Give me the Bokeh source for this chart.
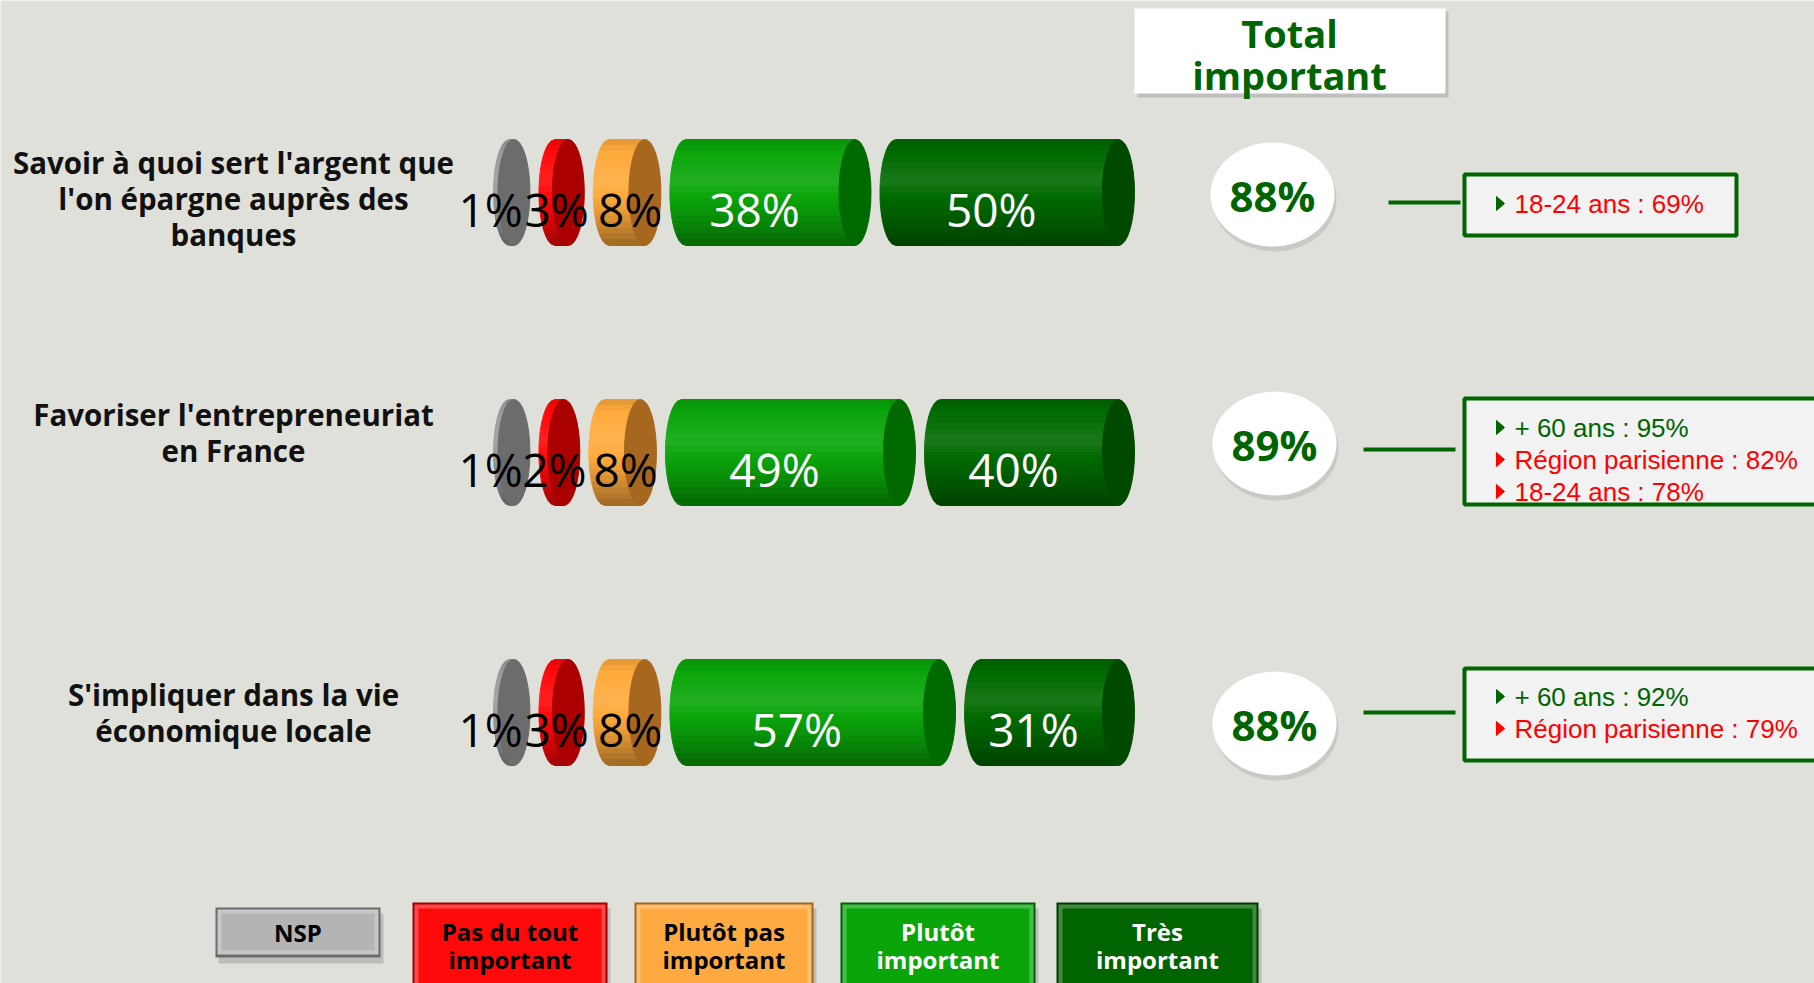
import numpy as np
from bokeh.plotting import figure
from bokeh.models import Range1d
from bokeh.core.properties import value
from bokeh.embed import file_html
from bokeh.resources import INLINE

# ---------------- data ----------------
questions = [
    ["Savoir à quoi sert l'argent que", "l'on épargne auprès des", "banques"],
    ["Favoriser l'entrepreneuriat", "en France"],
    ["S'impliquer dans la vie", "économique locale"],
]
categories = ["NSP", "Pas du tout important", "Plutôt pas important", "Plutôt important", "Très important"]
legend_lines = [["NSP"], ["Pas du tout", "important"], ["Plutôt pas", "important"], ["Plutôt", "important"], ["Très", "important"]]
nsp = [1, 1, 1]
pas_du_tout = [3, 2, 3]
plutot_pas = [8, 8, 8]
plutot = [38, 49, 57]
tres = [50, 40, 31]
total_important = [88, 89, 88]
callout_texts = [
    ["18-24 ans : 69%"],
    ["+ 60 ans : 95%", "Région parisienne : 82%", "18-24 ans : 78%"],
    ["+ 60 ans : 92%", "Région parisienne : 79%"],
]
callout_positive = [
    [False],
    [True, False, False],
    [True, False],
]
header_lines = ["Total", "important"]

# ---------------- style / layout ----------------
W, H = 1814, 983
BG = "#dfe0da"
GREEN = "#006400"
RED = "#ff0000"
body_colors = ["#9a9a9a", "#ff0808", "#ffaa3c", "#0aa50a", "#006a00"]
face_colors = ["#6c6c6c", "#ab0000", "#a8671f", "#006a00", "#004a00"]
label_colors = ["black", "black", "black", "white", "white"]
label_dx = [-21, -5, 3, -16, -16]
legend_fill = ["#b4b4b4", "#ff0a0a", "#ffaa40", "#0aa50a", "#006400"]
legend_edge = ["#6a6a6a", "#a00000", "#a0661c", "#045f04", "#003800"]
legend_text = ["black", "black", "black", "white", "white"]

row_y = [192, 452, 712]
q_center = [198, 432, 712]
circle_y = [194, 443, 723]
bar_x0 = 493
px_per_pct = 4.45
cap_a = 16
gap = 9
half_h = 53
NB = 18


def shade(hexc, f):
    c = [int(hexc[i:i + 2], 16) for i in (1, 3, 5)]
    if f >= 1:
        c = [v + (255 - v) * (f - 1) for v in c]
    else:
        c = [v * f for v in c]
    return "#%02x%02x%02x" % tuple(int(max(0, min(255, round(v)))) for v in c)


def profile(t):
    return float(np.interp(t, [0, 0.12, 0.4, 0.72, 1.0], [0.88, 1.0, 1.1, 0.88, 0.62]))


p = figure(width=W, height=H, x_range=Range1d(0, W), y_range=Range1d(H, 0),
           output_backend="svg", toolbar_location=None, min_border=0,
           x_axis_type=None, y_axis_type=None,
           background_fill_color=BG, border_fill_color=BG, outline_line_color=None)
p.grid.visible = False

OPEN = value("Open Sans")
ARIAL = value("Liberation Sans")

# ---------------- cylinders ----------------
series = [nsp, pas_du_tout, plutot_pas, plutot, tres]
bxs, bys, bcs = [], [], []
fx, fy, fcol = [], [], []
lx, ly, lt, lc = [], [], [], []
for r in range(3):
    yc = row_y[r]
    x = bar_x0
    for s in range(5):
        v = series[s][r]
        w = v * px_per_pct + 2 * cap_a
        xl, xr = x, x + w
        cxL, cxR = xl + cap_a, xr - cap_a
        for j in range(NB):
            ya = yc - half_h + j * 2 * half_h / NB
            yb = ya + 2 * half_h / NB
            yy = np.linspace(ya, yb, 5)
            xxl = cxL - cap_a * np.sqrt(np.clip(1 - ((yy - yc) / half_h) ** 2, 0, 1))
            bxs.append(list(xxl) + [cxR, cxR])
            bys.append(list(yy) + [yb, ya])
            bcs.append(shade(body_colors[s], profile((j + 0.5) / NB)))
        fx.append(cxR)
        fy.append(yc)
        fcol.append(face_colors[s])
        lx.append((xl + xr) / 2 + label_dx[s])
        ly.append(yc + 16)
        lt.append(f"{v}%")
        lc.append(label_colors[s])
        x = xr + gap

p.patches(bxs, bys, fill_color=bcs, line_color=bcs, line_width=1)
p.ellipse(x=fx, y=fy, width=2 * cap_a, height=2 * half_h, fill_color=fcol, line_color=fcol, line_width=1)
p.text(x=lx, y=ly, text=lt, text_color=lc, text_font=OPEN, text_font_size="46px",
       text_align="center", text_baseline="middle")

# ---------------- question labels ----------------
qx, qy, qt = [], [], []
for r, lines in enumerate(questions):
    n = len(lines)
    for i, line in enumerate(lines):
        qx.append(233)
        qy.append(q_center[r] + (i - (n - 1) / 2) * 36)
        qt.append(line)
p.text(x=qx, y=qy, text=qt, text_color="#111111", text_font=OPEN, text_font_style="bold",
       text_font_size="29.5px", text_align="center", text_baseline="middle")

# ---------------- header ----------------
p.quad(left=[1137], right=[1448], top=[11], bottom=[97], fill_color="#9a9a9a", fill_alpha=0.45, line_color=None)
p.quad(left=[1134], right=[1445], top=[8], bottom=[93], fill_color="white", line_color=None)
p.text(x=[1289, 1289], y=[32, 74], text=header_lines, text_color=GREEN, text_font=OPEN,
       text_font_style="bold", text_font_size="38px", text_align="center", text_baseline="middle")

# ---------------- total circles ----------------
cx = [1272, 1274, 1274]
p.ellipse(x=[c + 2 for c in cx], y=[c + 5 for c in circle_y], width=124, height=104,
          fill_color="#a8a8a8", fill_alpha=0.4, line_color=None)
p.ellipse(x=cx, y=circle_y, width=124, height=104, fill_color="white", line_color=None)
p.text(x=cx, y=[c + 1 for c in circle_y], text=[f"{t}%" for t in total_important], text_color=GREEN,
       text_font=OPEN, text_font_style="bold", text_font_size="42px",
       text_align="center", text_baseline="middle")

# ---------------- connectors & callouts ----------------
p.segment(x0=[1388, 1363, 1363], y0=[202, 449, 712], x1=[1460, 1455, 1455], y1=[202, 449, 712],
          line_color=GREEN, line_width=4)
p.quad(left=[1464, 1464, 1464], right=[1736, 1840, 1840], top=[174, 398, 668], bottom=[235, 504, 760],
       fill_color="#f2f2f2", line_color=GREEN, line_width=4)
line_y = [[203], [427, 459, 491], [696, 728]]
tx, ty, tt, tc = [], [], [], []
tri_x, tri_y, tri_c = [], [], []
for r in range(3):
    for i, txt in enumerate(callout_texts[r]):
        yv = line_y[r][i]
        pos = callout_positive[r][i]
        tx.append(1514)
        ty.append(yv)
        tt.append(txt)
        tc.append(GREEN if pos else RED)
        tri_x.append([1496, 1496, 1504])
        tri_y.append([yv - 7, yv + 7, yv])
        tri_c.append(GREEN if (pos or i == 0) else RED)
p.patches(tri_x, tri_y, fill_color=tri_c, line_color=tri_c, line_width=1)
p.text(x=tx, y=ty, text=tt, text_color=tc, text_font=ARIAL, text_font_size="26px",
       text_align="left", text_baseline="middle")

# ---------------- legend ----------------
leg_l = [215, 412, 634, 840, 1056]
leg_r = [380, 607, 813, 1035, 1258]
leg_t = [907, 902, 902, 902, 902]
leg_b = [957, 995, 995, 995, 995]
p.quad(left=[l + 3 for l in leg_l], right=[r + 3 for r in leg_r], top=[t + 6 for t in leg_t],
       bottom=[b + 6 for b in leg_b], fill_color="#8a8a8a", fill_alpha=0.4, line_color=None)
p.quad(left=leg_l, right=leg_r, top=leg_t, bottom=leg_b, fill_color=legend_edge, line_color=None)
p.quad(left=[l + 2 for l in leg_l], right=[r - 2 for r in leg_r], top=[t + 2 for t in leg_t],
       bottom=[b - 3 for b in leg_b], fill_color=[shade(c, 1.25) for c in legend_fill], line_color=None)
p.quad(left=[l + 6 for l in leg_l], right=[r - 6 for r in leg_r], top=[t + 6 for t in leg_t],
       bottom=[b - 7 for b in leg_b], fill_color=legend_fill, line_color=None)
gx, gy, gt, gc = [], [], [], []
for k, lines in enumerate(legend_lines):
    xm = (leg_l[k] + leg_r[k]) / 2
    if len(lines) == 1:
        ys = [(leg_t[k] + leg_b[k]) / 2]
    else:
        ys = [931, 959]
    for yv, line in zip(ys, lines):
        gx.append(xm)
        gy.append(yv)
        gt.append(line)
        gc.append(legend_text[k])
p.text(x=gx, y=gy, text=gt, text_color=gc, text_font=OPEN, text_font_style="bold",
       text_font_size="24px", text_align="center", text_baseline="middle")

open("out.html", "w").write(file_html(p, INLINE))
